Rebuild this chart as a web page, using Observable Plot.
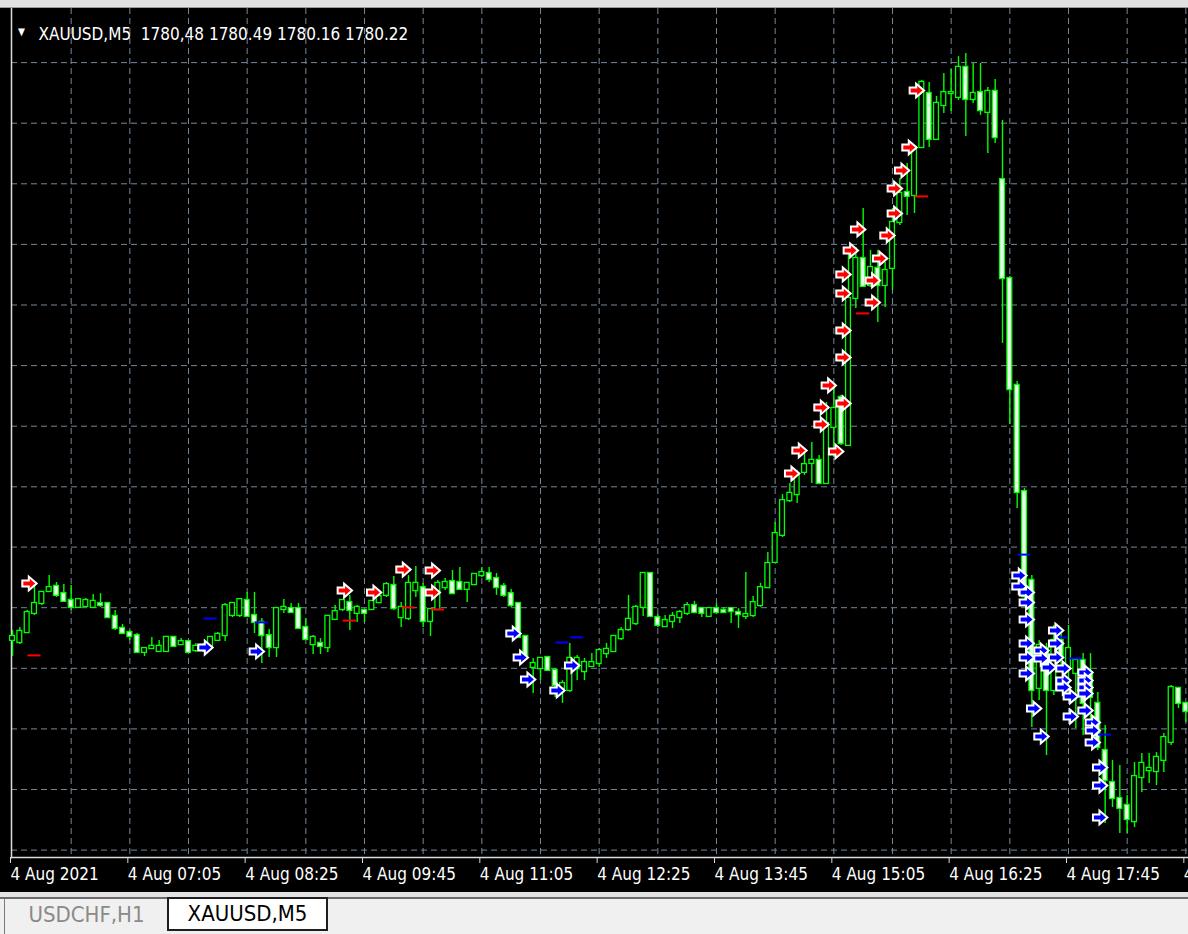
<!DOCTYPE html>
<html>
<head>
<meta charset="utf-8">
<script src="https://cdn.jsdelivr.net/npm/d3@7"></script>
<script src="https://cdn.jsdelivr.net/npm/@observablehq/plot@0.6"></script>
<style>
  html, body { margin: 0; padding: 0; }
  body { width: 1188px; height: 934px; overflow: hidden; background: #f0f0f0;
         font-family: "DejaVu Sans Condensed", "DejaVu Sans", sans-serif; }
  #topbar { height: 7px; background: #e1e1e1; border-bottom: 1px solid #9a9a9a; }
  #chart { height: 884px; background: #000; }
  #chart svg { display: block; }
  #sep { height: 5px; background: #e2e2e2; }
  #tabs { position: relative; height: 37px; background: #f0f0f0; border-top: 2px solid #6a6a6a; box-sizing: border-box; }
  .tab { position: absolute; box-sizing: border-box; text-align: center; font-size: 22px;
         font-family: "DejaVu Sans Condensed", "DejaVu Sans", sans-serif; }
  #tab1 { left: 4px; top: 0; width: 164px; height: 35px; line-height: 32px; color: #8a8a8a; border-left: 1px solid #7a7a7a; }
  #tab2 { left: 167px; top: -2px; width: 161px; height: 34px; line-height: 30px; color: #000; background: #fff; border: 2px solid #1e1e1e; }
</style>
</head>
<body>
<div id="topbar"></div>
<div id="chart"></div>
<div id="sep"></div>
<div id="tabs"><div class="tab" id="tab1">USDCHF,H1</div><div class="tab" id="tab2">XAUUSD,M5</div></div>
<script>
// ---- Data: XAUUSD M5 candles, 4 Aug 2021 (bar 0 = 05:45) ----
const open = [
1812.67,1812.60,1812.93,1813.57,1813.90,1814.30,1814.47,1814.23,1814.00,1813.77,
1813.80,1813.77,1813.90,1813.90,1813.47,1813.07,1812.93,1812.83,1812.27,1812.40,
1812.30,1812.30,1812.77,1812.53,1812.63,1812.33,1812.37,1812.43,1812.67,1812.83,
1813.50,1813.50,1814.00,1813.50,1813.27,1812.83,1812.43,1813.70,1813.73,1813.73,
1813.10,1812.53,1812.57,1812.43,1813.37,1813.70,1813.93,1813.57,1813.67,1813.70,
1813.93,1814.17,1814.50,1813.43,1813.40,1814.33,1814.43,1813.30,1813.70,1814.43,
1814.63,1814.60,1814.37,1814.53,1814.83,1814.90,1814.73,1814.47,1814.23,1813.90,
1812.80,1811.77,1811.73,1812.10,1811.67,1811.07,1811.00,1811.73,1811.63,1811.80,
1811.90,1812.23,1812.30,1812.73,1813.03,1813.23,1813.77,1814.90,1813.43,1813.13,
1813.30,1813.43,1813.57,1813.83,1813.73,1813.47,1813.73,1813.67,1813.73,1813.60,
1813.47,1813.50,1813.83,1814.43,1815.27,1816.17,1817.33,1817.53,1818.27,1818.57,
1818.67,1817.90,1819.77,1820.77,1819.17,1824.07,1825.40,1824.50,1825.07,1824.50,
1825.07,1826.60,1827.60,1827.50,1829.10,1830.90,1829.37,1830.50,1830.90,1830.77,
1831.77,1830.70,1830.93,1830.27,1830.97,1828.03,1824.73,1821.17,1817.63,1814.67,
1811.07,1812.40,1811.00,1812.67,1811.73,1811.57,1812.00,1811.60,1810.57,1809.00,
1807.93,1807.40,1807.17,1806.63,1808.10,1808.33,1808.30,1808.67,1809.27,1811.07,
1810.57];
const high = [
1813.00,1813.10,1813.67,1814.53,1814.30,1814.83,1814.60,1814.53,1814.50,1814.07,
1814.07,1814.20,1814.23,1813.90,1813.67,1813.20,1813.00,1812.90,1812.43,1812.77,
1812.67,1812.80,1812.80,1812.73,1812.67,1812.57,1812.57,1812.77,1812.93,1813.90,
1813.93,1814.07,1814.27,1814.27,1813.40,1813.03,1813.77,1814.03,1813.90,1813.90,
1813.40,1812.83,1812.73,1813.50,1813.83,1814.03,1814.17,1813.83,1813.70,1814.00,
1814.23,1814.60,1814.80,1813.93,1814.83,1815.13,1814.57,1813.73,1814.67,1814.73,
1815.00,1815.10,1814.60,1814.90,1815.10,1815.10,1814.90,1814.57,1814.37,1813.93,
1812.83,1812.07,1812.10,1812.13,1811.73,1811.33,1812.57,1812.17,1812.07,1812.23,
1812.40,1812.57,1812.83,1813.10,1814.17,1813.83,1814.93,1814.93,1813.53,1813.50,
1813.60,1813.67,1813.93,1813.97,1813.77,1813.77,1813.90,1813.77,1813.77,1813.73,
1814.93,1814.13,1814.57,1815.60,1816.60,1817.53,1817.90,1818.33,1818.90,1819.27,
1818.83,1820.60,1821.10,1820.83,1825.67,1825.77,1827.07,1825.67,1825.67,1825.27,
1827.07,1828.07,1828.57,1829.17,1831.33,1831.27,1830.80,1831.57,1831.70,1832.13,
1832.23,1831.90,1831.90,1831.10,1831.37,1830.00,1824.80,1821.30,1817.73,1814.83,
1812.67,1812.57,1813.17,1813.07,1813.17,1812.07,1812.23,1812.23,1810.93,1809.83,
1808.67,1808.50,1807.50,1808.60,1808.90,1808.90,1808.93,1809.57,1811.17,1811.10,
1810.60];
const low = [
1812.13,1812.53,1812.93,1813.50,1813.83,1814.27,1814.10,1813.97,1813.67,1813.77,
1813.77,1813.77,1813.77,1813.40,1813.00,1812.87,1812.67,1812.23,1812.13,1812.37,
1812.27,1812.27,1812.43,1812.50,1812.27,1812.27,1812.27,1812.40,1812.63,1812.63,
1813.43,1813.43,1813.43,1812.90,1811.90,1812.10,1812.10,1813.57,1813.57,1813.03,
1812.67,1812.20,1812.20,1812.27,1813.33,1813.63,1813.00,1813.27,1813.27,1813.67,
1813.90,1814.10,1813.67,1813.10,1813.33,1814.10,1813.10,1812.80,1813.67,1814.33,
1814.23,1814.33,1813.93,1814.50,1814.77,1814.60,1814.17,1814.10,1813.77,1812.73,
1812.10,1810.90,1811.33,1811.63,1810.77,1810.57,1810.93,1811.33,1811.33,1811.77,
1811.77,1812.07,1812.27,1812.67,1812.97,1813.17,1813.47,1813.43,1813.10,1813.10,
1813.07,1813.23,1813.50,1813.57,1813.43,1813.43,1813.53,1813.57,1813.23,1813.07,
1813.37,1813.43,1813.77,1814.40,1815.23,1816.10,1817.27,1817.23,1818.17,1817.90,
1817.90,1817.90,1818.77,1819.17,1819.17,1823.73,1824.43,1824.43,1823.27,1823.77,
1824.33,1826.50,1826.83,1826.90,1829.07,1829.10,1829.33,1830.23,1830.30,1830.67,
1829.47,1830.57,1830.17,1828.90,1829.23,1822.57,1819.87,1817.07,1813.83,1809.77,
1810.67,1808.83,1810.83,1811.73,1811.10,1809.73,1809.50,1809.77,1809.00,1806.57,
1807.10,1806.23,1806.23,1806.43,1807.60,1807.90,1807.83,1808.27,1809.17,1810.40,
1809.93];
const close = [
1812.80,1812.97,1813.60,1813.90,1814.27,1814.43,1814.17,1813.97,1813.77,1814.03,
1814.00,1813.97,1813.83,1813.43,1813.07,1812.90,1812.80,1812.27,1812.40,1812.47,
1812.47,1812.77,1812.47,1812.63,1812.27,1812.47,1812.50,1812.77,1812.87,1813.83,
1813.90,1814.03,1813.47,1813.27,1812.83,1812.43,1813.73,1813.77,1813.60,1813.07,
1812.70,1812.77,1812.47,1813.47,1813.63,1814.00,1813.67,1813.77,1813.57,1813.97,
1814.13,1814.53,1813.73,1813.77,1814.57,1814.57,1813.30,1813.70,1814.57,1814.60,
1814.23,1814.37,1814.57,1814.87,1814.93,1814.70,1814.43,1814.17,1813.83,1812.77,
1812.17,1811.90,1812.07,1811.67,1811.17,1811.23,1812.07,1812.07,1811.93,1811.93,
1812.33,1812.37,1812.80,1813.00,1813.37,1813.77,1814.90,1813.47,1813.17,1813.33,
1813.47,1813.60,1813.83,1813.60,1813.57,1813.73,1813.60,1813.60,1813.63,1813.53,
1813.53,1813.93,1814.43,1815.23,1816.23,1817.33,1817.57,1818.17,1818.53,1818.67,
1817.90,1819.90,1820.40,1819.23,1824.07,1825.40,1824.47,1825.10,1824.50,1825.00,
1826.60,1827.57,1827.47,1829.10,1831.27,1829.37,1830.57,1830.93,1830.93,1831.77,
1830.70,1830.90,1830.33,1830.97,1829.43,1824.73,1821.03,1817.60,1814.13,1811.00,
1812.50,1811.00,1812.67,1812.17,1812.40,1812.00,1810.57,1810.77,1809.10,1808.00,
1807.40,1807.07,1806.70,1808.13,1808.57,1808.40,1808.77,1809.43,1811.10,1810.57,
1810.30];

// Indicator arrows (red and blue right arrows)
const redArrowBar   = [3,46,50,54,58,58,107,108,111,111,112,113,114,114,114,114,114,115,116,118,118,119,120,121,121,122,123,124];
const redArrowPrice = [1814.57,1814.33,1814.27,1815.03,1815.00,1814.27,1818.23,1819.00,1820.43,1819.87,1821.17,1818.97,
                       1824.87,1824.23,1823.00,1822.10,1820.57,1825.67,1826.37,1824.67,1823.93,1825.40,1826.17,1826.90,
                       1827.73,1828.33,1829.10,1831.00];
const blueArrowBar   = [27,34,69,70,71,75,77,138,138,139,139,139,139,139,139,140,141,141,141,142,143,143,143,
                        144,144,144,145,145,147,147,147,147,147,148,148,148,149,149,149];
const blueArrowPrice = [1812.43,1812.30,1812.90,1812.10,1811.37,1811.00,1811.83,1814.83,1814.47,
                        1814.27,1813.93,1813.37,1812.57,1812.10,1811.57,1810.40,1809.47,1812.33,1812.07,1811.77,
                        1813.00,1812.57,1812.10,1811.73,1811.33,1811.10,1810.80,1810.13,
                        1811.60,1811.33,1811.10,1810.90,1810.33,1809.93,1809.67,1809.27,1808.43,1807.83,1806.77];
// Short level dashes
const redDashBar   = [3,46,54,58,116,124];
const redDashPrice = [1812.17,1813.33,1813.77,1813.70,1823.57,1827.47];
const blueDashBar   = [27,34,75,77,138,143,145,149];
const blueDashPrice = [1813.40,1813.27,1812.60,1812.77,1815.53,1812.77,1812.07,1809.53];

// Grid levels and time scale
const gridPrices = [1831.93,1829.91,1827.89,1825.87,1823.85,1821.83,1819.81,1817.79,1815.78,1813.76,1811.74,1809.72,1807.70,1805.68];
const gridBars = [8,16,24,32,40,48,56,64,72,80,88,96,104,112,120,128,136,144,152,160];
const labelBars = [0,16,32,48,64,80,96,112,128,144,160];
const timeLabels = ["4 Aug 2021","4 Aug 07:05","4 Aug 08:25","4 Aug 09:45","4 Aug 11:05","4 Aug 12:25",
                    "4 Aug 13:45","4 Aug 15:05","4 Aug 16:25","4 Aug 17:45","4 Aug 19:05"];
const headerText = "XAUUSD,M5\u00a0\u00a01780,48 1780.49 1780.16 1780.22";

// ---- Build tables ----
const candles = open.map((o, i) => ({bar: i, open: o, high: high[i], low: low[i], close: close[i]}));
const bulls = candles.filter(d => d.close >= d.open);
const bears = candles.filter(d => d.close < d.open);
const pairs = (b, p) => b.map((bar, i) => ({bar, price: p[i]}));
const redArrows = pairs(redArrowBar, redArrowPrice);
const blueArrows = pairs(blueArrowBar, blueArrowPrice);
const redDashes = pairs(redDashBar, redDashPrice);
const blueDashes = pairs(blueDashBar, blueDashPrice);
const labelMap = new Map(labelBars.map((b, i) => [b, timeLabels[i]]));

const lime = "#00ff00";
const gridColor = "#778899";

// Right-pointing block arrow symbol
const arrowSymbol = {
  draw(ctx, size) {
    const r = Math.sqrt(size / Math.PI);
    const sh = 0.42 * r, hh = 0.95 * r, neck = -0.1 * r;
    ctx.moveTo(-r, -sh);
    ctx.lineTo(neck, -sh);
    ctx.lineTo(neck, -hh);
    ctx.lineTo(r, 0);
    ctx.lineTo(neck, hh);
    ctx.lineTo(neck, sh);
    ctx.lineTo(-r, sh);
    ctx.closePath();
  }
};

const chart = Plot.plot({
  width: 1188,
  height: 884,
  marginTop: 0,
  marginLeft: 11,
  marginRight: 0,
  marginBottom: 35,
  style: {background: "#000", fontFamily: '"DejaVu Sans Condensed","DejaVu Sans",sans-serif'},
  x: {type: "linear", domain: [0, 160], range: [12, 1185.33], axis: null, label: null},
  y: {domain: [1804.2667, 1833.7333], range: [884, 0], axis: null},
  marks: [
    Plot.ruleY(gridPrices, {stroke: gridColor, strokeWidth: 1, strokeDasharray: "6,4"}),
    Plot.ruleX(gridBars, {stroke: gridColor, strokeWidth: 1, strokeDasharray: "6,4"}),
    Plot.frame({anchor: "left", stroke: "#dcdcdc", strokeWidth: 1.5}),
    Plot.frame({anchor: "bottom", stroke: "#dcdcdc", strokeWidth: 1.5}),
    Plot.ruleX(candles, {x: "bar", y1: "low", y2: "high", stroke: lime, strokeWidth: 1.4}),
    Plot.rect(bulls, {x1: d => d.bar - 0.33, x2: d => d.bar + 0.33, y1: "open", y2: "close",
                      fill: "#000", stroke: lime, strokeWidth: 1.3, insetTop: -0.5, insetBottom: -0.5}),
    Plot.rect(bears, {x1: d => d.bar - 0.33, x2: d => d.bar + 0.33, y1: "open", y2: "close",
                      fill: "#eaffea", stroke: lime, strokeWidth: 1.3, insetTop: -0.5, insetBottom: -0.5}),
    Plot.ruleY(redDashes, {x1: d => d.bar - 0.9, x2: d => d.bar + 0.9, y: "price", stroke: "#ff0000", strokeWidth: 2}),
    Plot.ruleY(blueDashes, {x1: d => d.bar - 0.9, x2: d => d.bar + 0.9, y: "price", stroke: "#0000ff", strokeWidth: 2}),
    Plot.dot(redArrows, {x: "bar", y: "price", symbol: arrowSymbol, r: 7.2, fill: "#ff0000",
                         stroke: "#ffffff", strokeWidth: 2, strokeLinejoin: "miter", dx: -5}),
    Plot.dot(blueArrows, {x: "bar", y: "price", symbol: arrowSymbol, r: 7.2, fill: "#0000ff",
                          stroke: "#ffffff", strokeWidth: 2, strokeLinejoin: "miter", dx: -5}),
    Plot.axisX(labelBars, {tickFormat: d => labelMap.get(d), tickSize: 6, tickPadding: 4, label: null,
                           stroke: "#dcdcdc", fill: "#ffffff", fontSize: 17, textAnchor: "start", dx: -2}),
    Plot.text(["\u25BC"], {frameAnchor: "top-left", dx: 10, dy: 19, fill: "#ffffff", fontSize: 10, textAnchor: "middle"}),
    Plot.text([headerText], {frameAnchor: "top-left", dx: 27, dy: 19, fill: "#ffffff", fontSize: 17, textAnchor: "start"})
  ]
});
document.getElementById("chart").appendChild(chart);
</script>
</body>
</html>
